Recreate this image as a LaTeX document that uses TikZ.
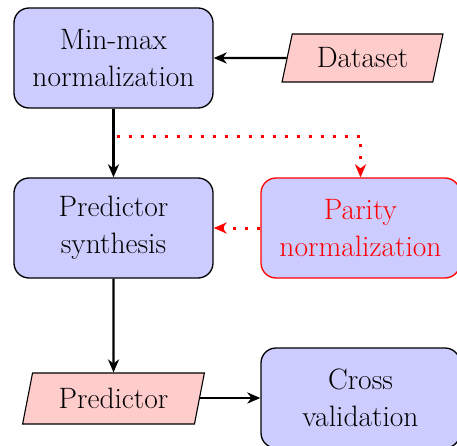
\documentclass[tikz,border=0pt]{standalone}
\usetikzlibrary{shapes.geometric,arrows.meta,calc}
\begin{document}
\begin{tikzpicture}[x=1pt,y=-1pt,
  font=\fontsize{29.5}{37}\selectfont,
  procbox/.style={draw, line width=1.3pt, rounded corners=15pt, fill=blue!20,
    minimum width=199pt, minimum height=100pt, align=center, inner sep=0pt},
  iobox/.style={draw, line width=1.1pt, fill=red!20, trapezium,
    trapezium left angle=72, trapezium right angle=108, trapezium stretches=true,
    inner sep=0pt},
  flow/.style={line width=2.4pt, -{Stealth[length=13pt,width=11pt,inset=4pt]}},
  redflow/.style={red, line width=3pt, dash pattern=on 3pt off 9pt,
    -{Stealth[length=13pt,width=11pt,inset=4pt,sep=0pt]}}]
\useasboundingbox (0,0) rectangle (457,446);

\node[procbox] (mm) at (113.5,58) {Min-max\\normalization};
\node[iobox, minimum width=161pt, minimum height=48pt] (ds) at (362.5,58) {Dataset};
\node[procbox] (ps) at (113.5,228) {Predictor\\synthesis};
\node[procbox, draw=red, text=red] (pn) at (360.5,228) {Parity\\normalization};
\node[iobox, minimum width=182pt, minimum height=51pt] (pr) at (113.5,398.5) {Predictor};
\node[procbox] (cv) at (360.5,398) {Cross\\validation};

\coordinate (split) at ($(mm.south)!0.4!(ps.north)$);
\coordinate (turn) at (split -| pn.north);

\draw[flow] (ds) -- (mm);
\draw[flow] (mm) -- (ps);
\draw[flow] (ps) -- (pr);
\draw[flow] (pr.east |- cv.west) -- (cv);
\draw[redflow] ([xshift=3pt]split) -- (turn) -- (pn.north);
\draw[redflow] (pn) -- (ps);
\end{tikzpicture}
\end{document}
